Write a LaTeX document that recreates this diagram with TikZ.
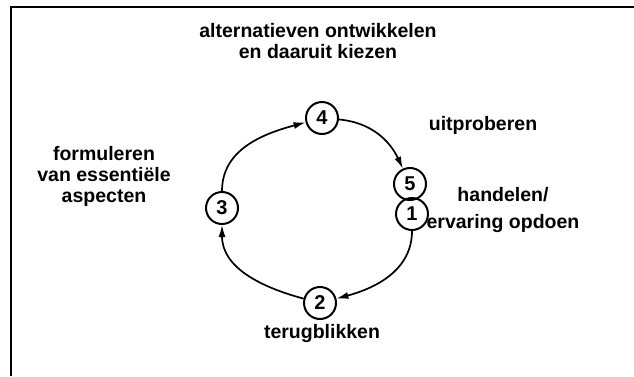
\documentclass[tikz,border=0pt]{standalone}
\usepackage{fontspec}
\setmainfont{Liberation Sans}
\usetikzlibrary{arrows.meta, positioning}

\begin{document}
\begin{tikzpicture}[x=1pt, y=1pt, >={Latex[length=12pt, width=7pt]},
    stap/.style={circle, draw, line width=2pt, minimum size=32pt,
        inner sep=0pt, font=\fontsize{20}{20}\selectfont\bfseries},
    label/.style={align=center, font=\fontsize{19.5}{21}\selectfont\bfseries},
    pijl/.style={->, line width=1.7pt}]
    \useasboundingbox (0,0) rectangle (634,376);
    % frame (only top and left edge visible)
    \draw[line width=2pt] (11,0) -- (11,369) -- (634,369);
    % steps of the cycle
    \node[stap] (n4) at (322,258) {4};
    \node[stap] (n5) at (410,192) {5};
    \node[stap] (n1) at (412,162) {1};
    \node[stap] (n3) at (222,168) {3};
    \node[stap] (n2) at (320,73) {2};
    % arcs between the steps
    \draw[pijl] (n4) to[out=-5, in=115] (n5);
    \draw[pijl] (n1) to[out=-90, in=15] (n2);
    \draw[pijl] (n2) to[out=165, in=-90] (n3);
    \draw[pijl] (n3) to[out=90, in=195] (n4);
    % texts
    \node[label] (t4) at (318,335) {alternatieven ontwikkelen\\en daaruit kiezen};
    \node[label] (t5) at (483,251) {uitproberen};
    \node[label] (t1) at (503,166) {handelen/\\[6pt]ervaring opdoen};
    \node[label] (t3) at (104,200) {formuleren\\van essentiële\\aspecten};
    \node[label] (t2) at (322,43) {terugblikken};
\end{tikzpicture}
\end{document}
